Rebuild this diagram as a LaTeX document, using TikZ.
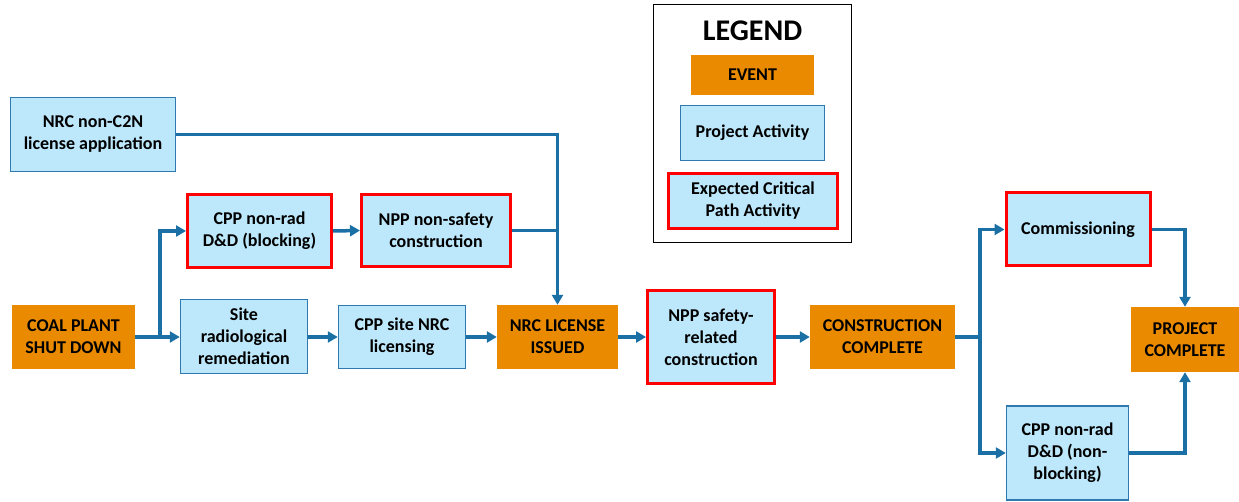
\documentclass[tikz,border=0pt]{standalone}
\usepackage{fontspec}
\setmainfont{Carlito}
\usepackage{xcolor}
\usepackage{tikz}
\usetikzlibrary{arrows.meta}
\definecolor{eventcolor}{HTML}{E98A00}
\definecolor{activitycolor}{HTML}{BDE7FA}
\definecolor{activityborder}{HTML}{2E79B0}
\definecolor{flowcolor}{HTML}{1A6FA5}
\definecolor{criticalcolor}{HTML}{FF0000}
\tikzset{
  boxtext/.style={align=center, inner sep=0pt, font=\fontsize{18pt}{22pt}\selectfont\bfseries},
  event/.style={boxtext, rectangle, fill=eventcolor},
  activity/.style={boxtext, rectangle, draw=activityborder, line width=1.5pt, fill=activitycolor},
  critical/.style={boxtext, rectangle, draw=criticalcolor, line width=3pt, fill=activitycolor},
  link/.style={draw=flowcolor, line width=3.5pt},
  flow/.style={link, -{Triangle[length=10pt,width=11pt]}},
}

\begin{document}
\begin{tikzpicture}[x=1pt, y=-1pt]%
\useasboundingbox (0,0) rectangle (1239,502);%
% legend
\node[draw=black, line width=1.5pt, minimum width=198pt, minimum height=238pt, inner sep=0pt] (legend) at (752.5, 123.5) {};%
\node[font=\fontsize{30pt}{34pt}\selectfont\bfseries] (legendtitle) at (752.5, 31) {LEGEND};%
\node[event, minimum width=123pt, minimum height=40pt] (legevent) at (752.5, 75) {EVENT};%
\node[activity, minimum width=144pt, minimum height=55pt] (legactivity) at (752.5, 133) {Project Activity};%
\node[critical, minimum width=169pt, minimum height=55pt] (legcritical) at (753, 201) {Expected Critical\\Path Activity};%
% chart
\node[activity, minimum width=165pt, minimum height=74pt] (nrcapp) at (93, 134.5) {NRC non-C2N\\license application};%
\node[critical, minimum width=144pt, minimum height=73pt] (cppblock) at (259.5, 231) {CPP non-rad\\D\&D (blocking)};%
\node[critical, minimum width=149pt, minimum height=72pt] (nppnonsafe) at (436, 230.5) {NPP non-safety\\construction};%
\node[event, minimum width=123pt, minimum height=64pt] (coal) at (73.5, 337) {COAL PLANT\\SHUT DOWN};%
\node[activity, minimum width=127pt, minimum height=74pt] (siterem) at (244, 336.5) {Site\\radiological\\remediation};%
\node[activity, minimum width=127pt, minimum height=63pt] (cppnrc) at (402, 337) {CPP site NRC\\licensing};%
\node[event, minimum width=121pt, minimum height=64pt] (license) at (557.5, 337) {NRC LICENSE\\ISSUED};%
\node[critical, minimum width=127pt, minimum height=93pt] (nppsafe) at (711, 337) {NPP safety-\\related\\construction};%
\node[event, minimum width=145pt, minimum height=64pt] (constr) at (882.5, 337) {CONSTRUCTION\\COMPLETE};%
\node[critical, minimum width=144pt, minimum height=73pt] (commis) at (1078, 229.5) {Commissioning};%
\node[activity, minimum width=122pt, minimum height=94pt] (cppnonblock) at (1067.5, 453) {CPP non-rad\\D\&D (non-\\blocking)};%
\node[event, minimum width=109pt, minimum height=65pt] (project) at (1185, 339.5) {PROJECT\\COMPLETE};%
\coordinate (split1) at (160, 337);%
\coordinate (split2) at (980, 337);%
% connectors
\draw[flow] (nrcapp.east) -| (license.north);%
\draw[link] (nppnonsafe.east) -- (nppnonsafe.east -| license.north);%
\draw[flow] (cppblock.east) -- (nppnonsafe.west);%
\draw[flow] (coal.east) -- (coal.east -| siterem.west);%
\draw[flow] (split1) |- (cppblock.west);%
\draw[flow] (siterem.east |- cppnrc.west) -- (cppnrc.west);%
\draw[flow] (cppnrc.east) -- (license.west);%
\draw[flow] (license.east) -- (nppsafe.west);%
\draw[flow] (nppsafe.east) -- (constr.west);%
\draw[link] (constr.east) -- (split2);%
\draw[flow] (split2) |- (commis.west);%
\draw[flow] (split2) |- (cppnonblock.west);%
\draw[flow] (commis.east) -| (project.north);%
\draw[flow] (cppnonblock.east) -| (project.south);%
\end{tikzpicture}
\end{document}
